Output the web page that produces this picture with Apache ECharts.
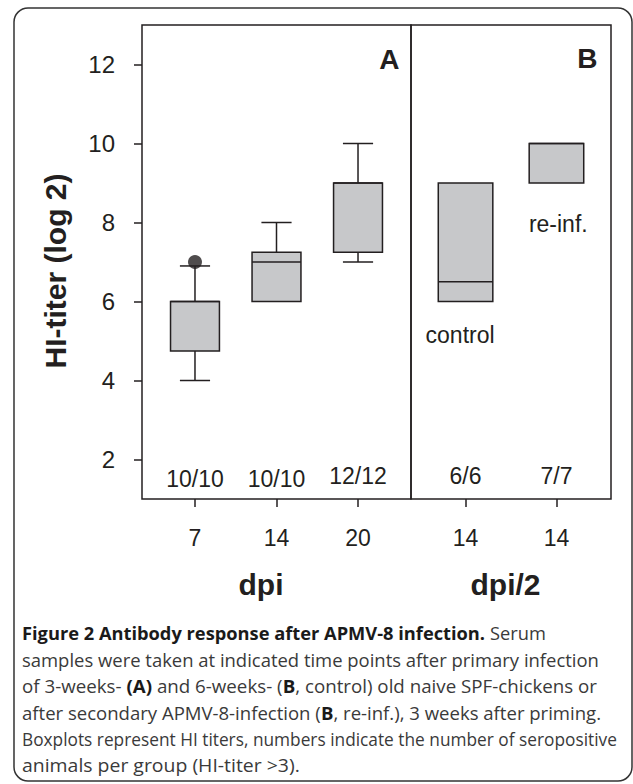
<!DOCTYPE html>
<html><head><meta charset="utf-8">
<script src="https://cdn.jsdelivr.net/npm/echarts@6/dist/echarts.min.js"></script>
<style>html,body{margin:0;padding:0;background:#fff}#c{width:633px;height:784px}</style>
</head><body><div id="c"></div>
<script>
// ---- data ----
const yTicks = [2, 4, 6, 8, 10, 12];
const catsA = ['7', '14', '20'];
const catsB = ['14', '14'];
// [min, q1, median, q3, max]
const boxA = [[4, 4.75, 6, 6, 6.9], [6, 6, 7, 7.25, 8], [7, 7.25, 9, 9, 10]];
const boxB = [[6, 6, 6.5, 9, 9], [9, 9, 10, 10, 10]];
const outliersA = [[1, 7]];
const countsA = ['10/10', '10/10', '12/12'];
const countsB = ['6/6', '7/7'];
const groupsB = ['control', 're-inf.'];
const captionLines = [
  [['Figure 2 Antibody response after APMV-8 infection.', 1], [' Serum', 0]],
  [['samples were taken at indicated time points after primary infection', 0]],
  [['of 3-weeks- ', 0], ['(A)', 1], [' and 6-weeks- (', 0], ['B', 1], [', control) old naive SPF-chickens or', 0]],
  [['after secondary APMV-8-infection (', 0], ['B', 1], [', re-inf.), 3 weeks after priming.', 0]],
  [['Boxplots represent HI titers, numbers indicate the number of seropositive', 0]],
  [['animals per group (HI-titer >3).', 0]]
];

// ---- layout helpers ----
const INK = '#231f20';
const FONT = '"Liberation Sans", Arial, Helvetica, sans-serif';
const CAP_FONT = '"Open Sans", sans-serif';
const CAP_SIZE = 18;
const countYA = [1.5, 1.5, 1.58];
const countYB = [1.58, 1.58];
const groupPosB = [[0.94, 5.14], [2.02, 7.96]];
const capX0 = 22, capY0 = 620, capLH = 26.4;
const capLineEnds = [546, 599, 597, 601, 617, 300];

function boxRender(params, api) {
  const x = api.value(0), mn = api.value(1), q1 = api.value(2), md = api.value(3), q3 = api.value(4), mx = api.value(5);
  const hw = 0.3, cw = 0.185;
  const p = (a, b) => api.coord([a, b]);
  const ls = { stroke: INK, lineWidth: 1.5 };
  const ch = [];
  const line = (a, b) => ({ type: 'line', shape: { x1: a[0], y1: a[1], x2: b[0], y2: b[1] }, style: ls });
  if (mx > q3) { ch.push(line(p(x, q3), p(x, mx))); ch.push(line(p(x - cw, mx), p(x + cw, mx))); }
  if (mn < q1) { ch.push(line(p(x, q1), p(x, mn))); ch.push(line(p(x - cw, mn), p(x + cw, mn))); }
  const tl = p(x - hw, q3), br = p(x + hw, q1);
  ch.push({ type: 'rect', shape: { x: tl[0], y: tl[1], width: br[0] - tl[0], height: br[1] - tl[1] },
    style: { fill: '#c7c8ca', stroke: INK, lineWidth: 1.5 } });
  ch.push(line(p(x - hw, md), p(x + hw, md)));
  return { type: 'group', children: ch };
}
function textRender(labels, size) {
  return function (params, api) {
    const pt = api.coord([api.value(0), api.value(1)]);
    return { type: 'text', x: pt[0], y: pt[1],
      style: { text: labels[params.dataIndex], fontSize: size, fontFamily: FONT, fill: INK, align: 'center', verticalAlign: 'middle' } };
  };
}

// caption lines, each stretched slightly to match the reference line length
const mctx = document.createElement('canvas').getContext('2d');
function segWidth(t, bold) {
  mctx.font = (bold ? 'bold ' : '') + CAP_SIZE + 'px ' + CAP_FONT;
  return mctx.measureText(t).width;
}
const captionGraphics = captionLines.map((segs, i) => {
  const w = segs.reduce((s, g) => s + segWidth(g[0], g[1]), 0);
  const sx = Math.max(0.9, Math.min(1.12, (capLineEnds[i] - capX0) / w));
  const text = segs.map(g => g[1] ? '{b|' + g[0] + '}' : '{r|' + g[0] + '}').join('');
  return { type: 'text', x: capX0, y: capY0 + i * capLH, scaleX: sx, silent: true,
    style: { text: text, fontSize: CAP_SIZE, fontFamily: CAP_FONT, fill: '#3a3a3a', lineHeight: capLH,
      align: 'left', verticalAlign: 'top',
      rich: {
        r: { fontSize: CAP_SIZE, fontFamily: CAP_FONT, fill: '#3a3a3a', lineHeight: capLH },
        b: { fontSize: CAP_SIZE, fontWeight: 'bold', fontFamily: CAP_FONT, fill: '#1a1a1a', lineHeight: capLH }
      } } };
});

const chart = echarts.init(document.getElementById('c'), null, { renderer: 'svg' });
const axisTxt = { fontSize: 23, fontFamily: FONT, color: INK };
const nameTxt = { fontSize: 30, fontWeight: 'bold', fontFamily: FONT, color: INK };

const option = {
  animation: false,
  grid: [
    { left: 142, top: 25, width: 269, height: 474, show: true, borderColor: INK, borderWidth: 1.5 },
    { left: 411, top: 25, width: 200, height: 474, show: true, borderColor: INK, borderWidth: 1.5 }
  ],
  xAxis: [
    { gridIndex: 0, type: 'value', min: 0.35, max: 3.65,
      axisLine: { show: false }, splitLine: { show: false },
      axisTick: { show: true, customValues: catsA.map((c, i) => i + 1), length: 8, lineStyle: { color: INK, width: 1.5 } },
      axisLabel: { show: true, customValues: catsA.map((c, i) => i + 1), formatter: v => catsA[Math.round(v) - 1], margin: 27, ...axisTxt },
      name: 'dpi', nameLocation: 'middle', nameGap: 70, nameTextStyle: { ...nameTxt, padding: [0, 31, 0, 0] } },
    { gridIndex: 1, type: 'value', min: 0.4, max: 2.6,
      axisLine: { show: false }, splitLine: { show: false },
      axisTick: { show: true, customValues: catsB.map((c, i) => i + 1), length: 8, lineStyle: { color: INK, width: 1.5 } },
      axisLabel: { show: true, customValues: catsB.map((c, i) => i + 1), formatter: v => catsB[Math.round(v) - 1], margin: 27, ...axisTxt },
      name: 'dpi/2', nameLocation: 'middle', nameGap: 70, nameTextStyle: { ...nameTxt, padding: [0, 11, 0, 0] } }
  ],
  yAxis: [
    { gridIndex: 0, type: 'value', min: 1, max: 13,
      axisLine: { show: false }, splitLine: { show: false },
      axisTick: { show: true, customValues: yTicks, length: 8, lineStyle: { color: INK, width: 1.5 } },
      axisLabel: { show: true, customValues: yTicks, margin: 27, ...axisTxt, fontSize: 24 },
      name: 'HI-titer (log 2)', nameLocation: 'middle', nameGap: 72, nameTextStyle: { ...nameTxt, padding: [0, 18, 0, 0] } },
    { gridIndex: 1, type: 'value', min: 1, max: 13, show: false }
  ],
  series: [
    { type: 'custom', xAxisIndex: 0, yAxisIndex: 0, renderItem: boxRender,
      data: boxA.map((b, i) => [i + 1, ...b]) },
    { type: 'custom', xAxisIndex: 1, yAxisIndex: 1, renderItem: boxRender,
      data: boxB.map((b, i) => [i + 1, ...b]) },
    { type: 'scatter', xAxisIndex: 0, yAxisIndex: 0, symbol: 'circle', symbolSize: 14,
      itemStyle: { color: INK }, data: outliersA, z: 5 },
    { type: 'custom', xAxisIndex: 0, yAxisIndex: 0, renderItem: textRender(countsA, 23),
      data: countsA.map((c, i) => [i + 1, countYA[i]]) },
    { type: 'custom', xAxisIndex: 1, yAxisIndex: 1, renderItem: textRender(countsB, 23),
      data: countsB.map((c, i) => [i + 1, countYB[i]]) },
    { type: 'custom', xAxisIndex: 1, yAxisIndex: 1, renderItem: textRender(groupsB, 23),
      data: groupsB.map((g, i) => groupPosB[i]) }
  ],
  graphic: [
    { type: 'rect', shape: { x: 14, y: 8, width: 618, height: 773, r: 14 }, style: { fill: 'none', stroke: '#333', lineWidth: 1.5 }, silent: true },
    { type: 'text', x: 399.5, y: 59.2, style: { text: 'A', fontSize: 28, fontWeight: 'bold', fontFamily: FONT, fill: INK, align: 'right', verticalAlign: 'middle' } },
    { type: 'text', x: 597.5, y: 58.2, style: { text: 'B', fontSize: 28, fontWeight: 'bold', fontFamily: FONT, fill: INK, align: 'right', verticalAlign: 'middle' } },
    ...captionGraphics
  ]
};
chart.setOption(option);
</script></body></html>
